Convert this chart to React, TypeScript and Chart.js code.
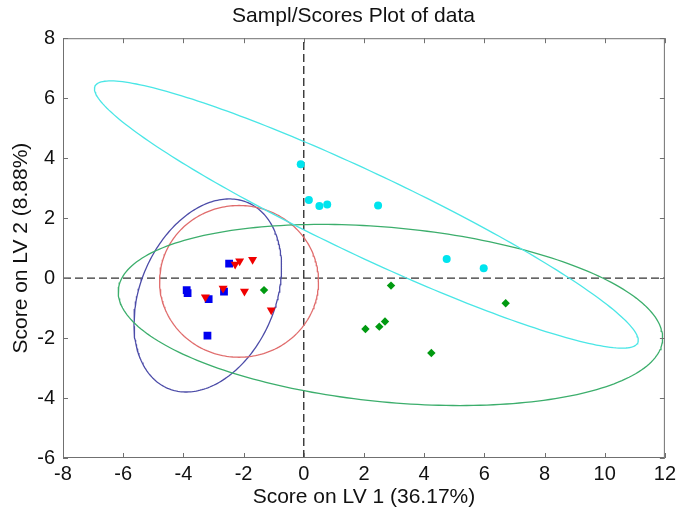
import React, { useEffect, useRef } from "react";
import { Chart, registerables } from "chart.js";

Chart.register(...registerables);

// ---- data ----
const cyanX = [-0.1, 0.17, 0.52, 0.78, 2.47, 4.75, 5.98];
const cyanY = [3.8, 2.6, 2.4, 2.45, 2.42, 0.64, 0.33];

const greenX = [-1.32, 2.9, 2.05, 2.51, 2.7, 4.24, 6.71];
const greenY = [-0.4, -0.25, -1.7, -1.62, -1.45, -2.5, -0.84];

const redX = [-2.28, -2.13, -1.7, -2.68, -3.27, -1.97, -1.08];
const redY = [0.46, 0.57, 0.62, -0.34, -0.63, -0.44, -1.07];

const blueX = [-2.48, -3.89, -3.86, -3.16, -2.65, -3.2];
const blueY = [0.48, -0.4, -0.5, -0.7, -0.45, -1.92];

// confidence ellipses: cyan, green, red, blue
const ellipseCenterX = [2.08, 2.88, -2.15, -3.19];
const ellipseCenterY = [2.12, -1.23, -0.11, -0.58];
const ellipseSemiMajor = [9.98, 9.08, 2.64, 3.37];
const ellipseSemiMinor = [1.37, 2.91, 2.53, 2.24];
const ellipseAngleDeg = [-25.4, -5.4, 0, 66.7];

const refHorizX = [-8, 12];
const refHorizY = [0, 0];
const refVertX = [0, 0];
const refVertY = [-6, 8];

const xTicks = [-8, -6, -4, -2, 0, 2, 4, 6, 8, 10, 12];
const yTicks = [-6, -4, -2, 0, 2, 4, 6, 8];

const FONT = "'Liberation Sans', Arial, Helvetica, sans-serif";

function pts(xs: number[], ys: number[]) {
  return xs.map((x, i) => ({ x, y: ys[i] }));
}

function ellipsePoints(i: number) {
  const out: { x: number; y: number }[] = [];
  const a = ellipseSemiMajor[i];
  const b = ellipseSemiMinor[i];
  const th = (ellipseAngleDeg[i] * Math.PI) / 180;
  const n = 240;
  for (let k = 0; k <= n; k++) {
    const t = (2 * Math.PI * k) / n;
    const ex = a * Math.cos(t);
    const ey = b * Math.sin(t);
    out.push({
      x: ellipseCenterX[i] + ex * Math.cos(th) - ey * Math.sin(th),
      y: ellipseCenterY[i] + ex * Math.sin(th) + ey * Math.cos(th),
    });
  }
  return out;
}

const boxPlugin = {
  id: "matlabBox",
  afterDraw(chart: any) {
    const { ctx, chartArea } = chart;
    const { left, right, top, bottom } = chartArea;
    const xs = chart.scales.x;
    const ys = chart.scales.y;
    ctx.save();
    ctx.strokeStyle = "#707070";
    ctx.lineWidth = 1;
    ctx.strokeRect(left + 0.5, top + 0.5, right - left - 1, bottom - top - 1);
    const tl = 5;
    ctx.beginPath();
    xTicks.forEach((v) => {
      const px = Math.round(xs.getPixelForValue(v)) + 0.5;
      ctx.moveTo(px, bottom);
      ctx.lineTo(px, bottom - tl);
      ctx.moveTo(px, top);
      ctx.lineTo(px, top + tl);
    });
    yTicks.forEach((v) => {
      const py = Math.round(ys.getPixelForValue(v)) + 0.5;
      ctx.moveTo(left, py);
      ctx.lineTo(left + tl, py);
      ctx.moveTo(right, py);
      ctx.lineTo(right - tl, py);
    });
    ctx.stroke();
    ctx.restore();
  },
};

export default function App() {
  const ref = useRef<HTMLCanvasElement | null>(null);

  useEffect(() => {
    if (!ref.current) return;
    const lineDs = (data: any[], color: string) => ({
      type: "scatter" as const,
      data,
      showLine: true,
      borderColor: color,
      borderWidth: 1.3,
      pointRadius: 0,
      fill: false,
      tension: 0,
    });
    const chart = new Chart(ref.current, {
      type: "scatter",
      data: {
        datasets: [
          {
            data: pts(cyanX, cyanY),
            pointStyle: "circle",
            pointRadius: 4,
            backgroundColor: "#00e4ee",
            borderColor: "#00e4ee",
            borderWidth: 0,
          },
          {
            data: pts(greenX, greenY),
            pointStyle: "rectRot",
            pointRadius: 4.2,
            backgroundColor: "#009a10",
            borderColor: "#009a10",
            borderWidth: 0,
          },
          {
            data: pts(redX, redY),
            pointStyle: "triangle",
            rotation: 180,
            pointRadius: 5.2,
            backgroundColor: "#f00000",
            borderColor: "#f00000",
            borderWidth: 0,
          },
          {
            data: pts(blueX, blueY),
            pointStyle: "rect",
            pointRadius: 5.5,
            backgroundColor: "#0000f0",
            borderColor: "#0000f0",
            borderWidth: 0,
          },
          lineDs(ellipsePoints(0), "#4ae6e6"),
          lineDs(ellipsePoints(1), "#3cae6c"),
          lineDs(ellipsePoints(2), "#e06c6c"),
          lineDs(ellipsePoints(3), "#4c4ca8"),
          {
            ...lineDs(pts(refHorizX, refHorizY), "#333333"),
            borderDash: [8, 4],
            borderWidth: 1.4,
          },
          {
            ...lineDs(pts(refVertX, refVertY), "#333333"),
            borderDash: [8, 4],
            borderWidth: 1.4,
          },
        ] as any,
      },
      options: {
        animation: false,
        responsive: false,
        layout: { padding: { left: 27, right: 0, top: 0, bottom: 0 } },
        plugins: {
          legend: { display: false },
          tooltip: { enabled: false },
          title: {
            display: true,
            text: "Sampl/Scores Plot of data",
            color: "#111",
            font: { family: FONT, size: 21, weight: "normal" },
            padding: { top: 4, bottom: 9 },
          },
        },
        scales: {
          x: {
            type: "linear",
            min: -8,
            max: 12,
            afterFit: (s: any) => {
              s.height = 56;
            },
            afterBuildTicks: (s: any) => {
              s.ticks = xTicks.map((v) => ({ value: v }));
            },
            grid: { display: false, drawTicks: false },
            border: { display: false },
            ticks: {
              autoSkip: false,
              maxRotation: 0,
              padding: 4,
              color: "#111",
              font: { family: FONT, size: 20 },
            },
            title: {
              display: true,
              text: "Score on LV 1 (36.17%)",
              color: "#111",
              font: { family: FONT, size: 21 },
              padding: { top: 0, bottom: 4 },
            },
          },
          y: {
            type: "linear",
            min: -6,
            max: 8,
            afterFit: (s: any) => {
              s.width = 36;
            },
            afterBuildTicks: (s: any) => {
              s.ticks = yTicks.map((v) => ({ value: v }));
            },
            grid: { display: false, drawTicks: false },
            border: { display: false },
            ticks: {
              autoSkip: false,
              padding: 8,
              color: "#111",
              font: { family: FONT, size: 20 },
            },
            title: {
              display: true,
              text: "Score on LV 2 (8.88%)",
              color: "#111",
              font: { family: FONT, size: 21 },
              padding: { top: -18.5, bottom: 0 },
            },
          },
          y2: {
            type: "linear",
            position: "right",
            min: -6,
            max: 8,
            afterFit: (s: any) => {
              s.width = 12;
            },
            grid: { display: false, drawTicks: false },
            border: { display: false },
            ticks: { display: false },
            title: { display: false },
          },
        },
      },
      plugins: [boxPlugin],
    });
    return () => chart.destroy();
  }, []);

  return (
    <div style={{ position: "absolute", left: 0, top: 0, width: 680, height: 514, background: "#fff" }}>
      <canvas ref={ref} width={680} height={514} />
    </div>
  );
}
